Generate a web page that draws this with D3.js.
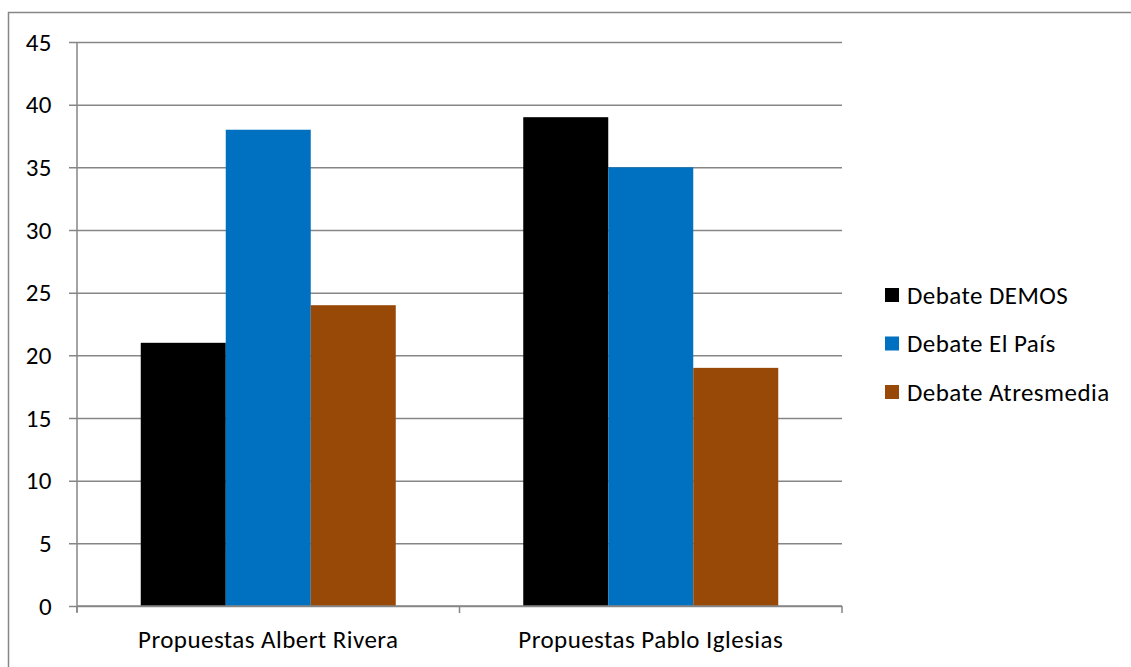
<!DOCTYPE html>
<html>
<head>
<meta charset="utf-8">
<script src="https://cdn.jsdelivr.net/npm/d3@7"></script>
<style>
  html, body { margin: 0; padding: 0; background: #fff; }
  svg { display: block; }
  svg text { font-family: Carlito, Lato, "Open Sans", sans-serif; letter-spacing: 0.45px; }
</style>
</head>
<body>
<svg id="chart" width="1131" height="667"></svg>
<script>
// Chart data
const categories = ["Propuestas Albert Rivera", "Propuestas Pablo Iglesias"];
const seriesNames = ["Debate DEMOS", "Debate El País", "Debate Atresmedia"];
const seriesColors = ["#000000", "#0070C0", "#984807"];
const demosValues = [21, 39];
const elPaisValues = [38, 35];
const atresmediaValues = [24, 19];
const yTicks = [0, 5, 10, 15, 20, 25, 30, 35, 40, 45];

const seriesValues = [demosValues, elPaisValues, atresmediaValues];
const FONT = "25px";

const svg = d3.select("#chart");
const plot = { left: 77, right: 842, top: 42, bottom: 606 };

// Outer chart frame (extends past the right and bottom edges)
svg.append("rect")
  .attr("x", 8.5).attr("y", 12.5)
  .attr("width", 1200).attr("height", 800)
  .attr("fill", "none").attr("stroke", "#868686").attr("stroke-width", 1.5);

const x0 = d3.scaleBand().domain(categories).range([plot.left, plot.right]);
// bars fill the middle two thirds of each category band
const x1 = d3.scaleBand().domain(seriesNames)
  .range([x0.bandwidth() / 6, x0.bandwidth() * 5 / 6]);
const y = d3.scaleLinear().domain([0, 45]).range([plot.bottom, plot.top]);

// Horizontal gridlines with tick stubs
const yAxis = d3.axisLeft(y).tickValues(yTicks).tickSize(plot.right - plot.left + 8).tickPadding(17).tickFormat(d3.format("d"));
const gy = svg.append("g").attr("transform", `translate(${plot.right},0)`).call(yAxis);
gy.attr("font-family", null).attr("font-size", null);
gy.select(".domain").remove();
gy.selectAll(".tick line").attr("stroke", "#868686").attr("stroke-width", 1.5);
gy.selectAll(".tick text").attr("fill", "#000").style("font-size", FONT);

// Bars
const groups = svg.append("g").selectAll("g")
  .data(categories)
  .join("g")
  .attr("transform", d => `translate(${x0(d)},0)`);

groups.selectAll("rect")
  .data((c, ci) => seriesNames.map((s, si) => ({ s, v: seriesValues[si][ci], color: seriesColors[si] })))
  .join("rect")
  .attr("x", d => x1(d.s))
  .attr("width", x1.bandwidth())
  .attr("y", d => y(d.v))
  .attr("height", d => y(0) - y(d.v))
  .attr("fill", d => d.color);

// Vertical axis line
svg.append("line")
  .attr("x1", plot.left).attr("x2", plot.left)
  .attr("y1", plot.top).attr("y2", plot.bottom + 6)
  .attr("stroke", "#868686").attr("stroke-width", 1.5);

// Category axis
const xAxis = d3.axisBottom(x0).tickSize(0).tickPadding(24);
const gx = svg.append("g").attr("transform", `translate(0,${plot.bottom})`).call(xAxis);
gx.attr("font-family", null).attr("font-size", null);
gx.select(".domain").attr("stroke", "#868686").attr("stroke-width", 1.5).attr("d", `M${plot.left},0H${plot.right}`);
gx.selectAll(".tick text").attr("fill", "#000").style("font-size", FONT);

// Category boundary ticks
const bounds = [plot.left, x0(categories[1]), plot.right];
svg.append("g").selectAll("line")
  .data(bounds)
  .join("line")
  .attr("x1", d => d).attr("x2", d => d)
  .attr("y1", plot.bottom).attr("y2", plot.bottom + 7)
  .attr("stroke", "#868686").attr("stroke-width", 1.5);

// Legend
const legend = svg.append("g").attr("transform", "translate(885,295)");
const items = legend.selectAll("g")
  .data(seriesNames)
  .join("g")
  .attr("transform", (d, i) => `translate(0,${i * 48.5})`);
items.append("rect")
  .attr("x", 0).attr("y", -7).attr("width", 14).attr("height", 14)
  .attr("fill", (d, i) => seriesColors[i]);
items.append("text")
  .attr("x", 22).attr("y", 0).attr("dy", "0.35em")
  .style("font-size", FONT).attr("fill", "#000")
  .text(d => d);
</script>
</body>
</html>
